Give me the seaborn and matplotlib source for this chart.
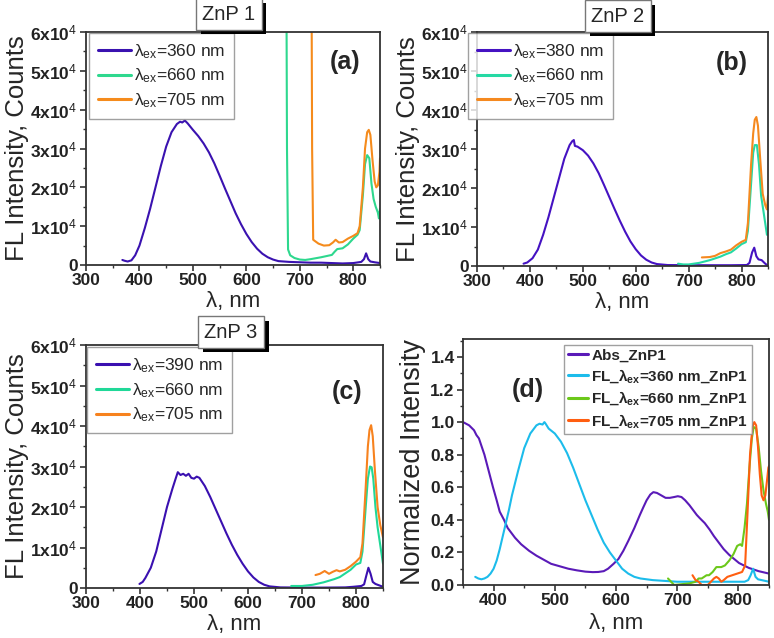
import numpy as np
import pandas as pd
import matplotlib
matplotlib.use("Agg")
import matplotlib.pyplot as plt
import matplotlib.patheffects as pe
from matplotlib.ticker import MultipleLocator
import seaborn as sns

# ---------------- data ----------------
# Panel (a) ZnP 1
a_blue_x = [368, 372, 378, 385, 392, 400, 410, 420, 430, 440, 450, 460, 470, 476, 480, 485, 490, 500, 510, 520, 530, 540, 550, 560, 570, 580, 590, 600, 610, 620, 630, 640, 650, 660, 680, 700, 720, 740, 760, 780, 800, 815, 820, 824, 828, 832, 840, 850]
a_blue_y = [1300, 1100, 900, 1200, 2500, 5000, 9500, 14500, 20000, 25500, 30500, 34200, 36300, 36900, 36700, 37200, 36500, 34800, 33200, 31300, 29000, 26200, 23000, 19700, 16500, 13300, 10500, 8000, 5900, 4200, 2900, 2000, 1400, 1000, 800, 700, 600, 600, 500, 400, 500, 800, 1500, 3000, 1500, 900, 700, 500]
a_green_x = [675, 676, 678, 682, 690, 700, 710, 720, 740, 760, 765, 770, 780, 790, 800, 808, 812, 818, 822, 826, 830, 834, 838, 842, 846, 848, 850]
a_green_y = [70000, 30000, 4000, 2500, 1800, 1400, 1300, 1500, 2000, 2600, 3400, 4100, 4300, 5300, 6800, 7800, 9000, 18000, 26000, 28300, 27500, 21000, 17000, 15000, 13500, 12000, 14500]
a_orange_x = [722, 723, 725, 735, 745, 755, 762, 767, 773, 780, 790, 800, 808, 812, 818, 822, 826, 829, 832, 836, 840, 843, 846, 849, 850]
a_orange_y = [70000, 30000, 6500, 5500, 5000, 5100, 5800, 6500, 5800, 5900, 6800, 7500, 8200, 10000, 20000, 30000, 34200, 34800, 33500, 27000, 21500, 20000, 20500, 24000, 27500]

# Panel (b) ZnP 2
b_blue_x = [388, 395, 405, 415, 425, 435, 445, 455, 465, 475, 480, 483, 485, 490, 500, 510, 520, 530, 540, 550, 560, 570, 580, 590, 600, 610, 620, 630, 640, 660, 700, 740, 780, 810, 815, 820, 824, 828, 832, 838, 844, 850]
b_blue_y = [600, 900, 2000, 4200, 8000, 12500, 17500, 22500, 27500, 31000, 32000, 32300, 30800, 30600, 29700, 28300, 26300, 23800, 20800, 17700, 14600, 11600, 8800, 6300, 4300, 2700, 1600, 900, 500, 250, 200, 200, 200, 250, 800, 3500, 4700, 2500, 1700, 1500, 700, 0]
b_green_x = [680, 690, 700, 720, 740, 760, 770, 780, 790, 800, 808, 812, 818, 822, 825, 829, 833, 837, 842, 848]
b_green_y = [600, 400, 400, 800, 1500, 2400, 3000, 3500, 4500, 5600, 6100, 9000, 21000, 29000, 31000, 31000, 26000, 18000, 13500, 8000]
b_orange_x = [725, 740, 750, 760, 770, 780, 790, 800, 808, 812, 818, 822, 825, 828, 831, 835, 840, 845, 848, 850]
b_orange_y = [2200, 2300, 2600, 3300, 3700, 4200, 5300, 6200, 6700, 11000, 26000, 34000, 37500, 38200, 36000, 28000, 18500, 15500, 14500, 18000]

# Panel (c) ZnP 3
c_blue_x = [399, 405, 410, 420, 430, 440, 450, 460, 466, 470, 475, 480, 485, 490, 495, 500, 505, 510, 520, 530, 540, 550, 560, 570, 580, 590, 600, 610, 620, 630, 640, 660, 700, 740, 780, 795, 810, 815, 819, 823, 827, 831, 836, 842, 850]
c_blue_y = [1000, 1500, 2500, 5000, 9000, 14500, 20000, 24500, 27000, 28600, 27900, 28200, 27700, 28200, 27200, 27000, 27500, 27200, 25200, 22500, 19500, 16500, 13500, 10700, 8200, 6000, 4100, 2600, 1500, 800, 400, 150, 100, 100, 150, 300, 500, 900, 3000, 5000, 3500, 1500, 1000, 700, 300]
c_green_x = [680, 700, 720, 740, 760, 770, 780, 790, 800, 808, 812, 818, 822, 826, 829, 832, 836, 840, 845, 850]
c_green_y = [500, 500, 800, 1400, 2200, 2700, 3600, 4500, 5800, 6200, 9000, 20000, 27000, 30000, 29800, 27000, 20000, 15000, 10500, 6000]
c_orange_x = [725, 733, 742, 750, 757, 764, 770, 780, 790, 800, 808, 812, 818, 822, 825, 828, 831, 835, 840, 845, 850]
c_orange_y = [3200, 3500, 4200, 3500, 4000, 4400, 4100, 4500, 5400, 6500, 7600, 11000, 25000, 35000, 39000, 40200, 37500, 29000, 20000, 15500, 12500]

# Panel (d) normalized
d_abs_x = [350, 360, 368, 372, 376, 385, 392, 399, 405, 410, 417, 423, 435, 445, 458, 470, 482, 494, 508, 522, 536, 550, 562, 571, 580, 587, 596, 604, 612, 620, 630, 639, 645, 650, 656, 661, 667, 674, 681, 688, 695, 701, 707, 713, 720, 726, 732, 737, 745, 753, 760, 768, 776, 785, 793, 801, 809, 817, 825, 833, 841, 850]
d_abs_y = [1.0, 0.98, 0.95, 0.92, 0.90, 0.80, 0.70, 0.60, 0.52, 0.45, 0.40, 0.35, 0.29, 0.25, 0.21, 0.18, 0.155, 0.13, 0.115, 0.10, 0.09, 0.082, 0.079, 0.08, 0.085, 0.10, 0.13, 0.16, 0.21, 0.27, 0.35, 0.43, 0.48, 0.52, 0.555, 0.57, 0.565, 0.55, 0.535, 0.535, 0.54, 0.545, 0.54, 0.52, 0.49, 0.46, 0.43, 0.41, 0.38, 0.34, 0.30, 0.26, 0.22, 0.185, 0.16, 0.135, 0.12, 0.105, 0.095, 0.085, 0.078, 0.07]
d_fl360_x = [370, 375, 380, 385, 390, 395, 400, 405, 410, 415, 420, 425, 430, 440, 450, 460, 470, 475, 480, 483, 485, 490, 500, 510, 520, 530, 540, 550, 560, 570, 580, 590, 600, 610, 620, 630, 640, 660, 680, 700, 740, 780, 810, 816, 820, 824, 828, 832, 838, 850]
d_fl360_y = [0.05, 0.04, 0.035, 0.04, 0.05, 0.07, 0.10, 0.15, 0.22, 0.30, 0.38, 0.46, 0.55, 0.70, 0.84, 0.93, 0.98, 0.99, 0.985, 1.0, 0.99, 0.96, 0.93, 0.88, 0.81, 0.72, 0.62, 0.52, 0.43, 0.34, 0.26, 0.20, 0.15, 0.10, 0.07, 0.05, 0.04, 0.03, 0.025, 0.02, 0.02, 0.02, 0.02, 0.03, 0.06, 0.10, 0.05, 0.035, 0.03, 0.02]
d_fl660_x = [685, 690, 695, 720, 730, 735, 740, 748, 752, 758, 764, 772, 778, 785, 792, 798, 803, 806, 810, 814, 818, 822, 825, 829, 833, 837, 841, 845, 848, 850]
d_fl660_y = [0.04, 0.02, 0.0, 0.01, 0.02, 0.04, 0.04, 0.06, 0.06, 0.08, 0.11, 0.11, 0.12, 0.15, 0.19, 0.24, 0.25, 0.24, 0.35, 0.50, 0.72, 0.90, 0.97, 0.96, 0.85, 0.70, 0.58, 0.50, 0.45, 0.40]
d_fl705_x = [725, 730, 735, 740, 745, 750, 755, 760, 764, 768, 772, 776, 782, 790, 798, 806, 811, 815, 819, 823, 826, 829, 832, 835, 838, 841, 844, 847, 849, 850]
d_fl705_y = [0.06, 0.03, 0.02, 0.0, 0.0, 0.0, 0.02, 0.04, 0.05, 0.04, 0.02, 0.03, 0.05, 0.06, 0.07, 0.08, 0.12, 0.45, 0.80, 0.97, 1.0, 0.98, 0.85, 0.68, 0.55, 0.52, 0.55, 0.65, 0.72, 0.73]

legend_a = ["λ$_{\\mathrm{ex}}$=360 nm", "λ$_{\\mathrm{ex}}$=660 nm", "λ$_{\\mathrm{ex}}$=705 nm"]
legend_b = ["λ$_{\\mathrm{ex}}$=380 nm", "λ$_{\\mathrm{ex}}$=660 nm", "λ$_{\\mathrm{ex}}$=705 nm"]
legend_c = ["λ$_{\\mathrm{ex}}$=390 nm", "λ$_{\\mathrm{ex}}$=660 nm", "λ$_{\\mathrm{ex}}$=705 nm"]
legend_d = ["Abs_ZnP1", "FL_λ$_{\\mathbf{ex}}$=360 nm_ZnP1", "FL_λ$_{\\mathbf{ex}}$=660 nm_ZnP1", "FL_λ$_{\\mathbf{ex}}$=705 nm_ZnP1"]
titles = ["ZnP 1", "ZnP 2", "ZnP 3"]
fl_ticks = [0, 10000, 20000, 30000, 40000, 50000, 60000]
fl_ticklabels = ["0", "1x10$^{4}$", "2x10$^{4}$", "3x10$^{4}$", "4x10$^{4}$", "5x10$^{4}$", "6x10$^{4}$"]

# ---------------- style ----------------
sns.set_style("ticks")
plt.rcParams["font.family"] = ["Liberation Sans", "DejaVu Sans"]
plt.rcParams["mathtext.fontset"] = "custom"
plt.rcParams["mathtext.rm"] = "Liberation Sans"
plt.rcParams["mathtext.it"] = "Liberation Sans:italic"
plt.rcParams["mathtext.bf"] = "Liberation Sans:bold"

fig = plt.figure(figsize=(7.74, 6.38), dpi=100)

def fpos(l, t, r, b):
    W, H = 774.0, 638.0
    return [l / W, 1 - b / H, (r - l) / W, (b - t) / H]

ax_a = fig.add_axes(fpos(86, 32, 380, 265))
ax_b = fig.add_axes(fpos(477, 32, 768, 266))
ax_c = fig.add_axes(fpos(86, 345, 383, 588))
ax_d = fig.add_axes(fpos(463, 339, 769, 585))

def draw(ax, xs, ys, colors, labels, lw=1.5):
    for x, y, c, lab in zip(xs, ys, colors, labels):
        df = pd.DataFrame({"x": x, "y": y})
        sns.lineplot(data=df, x="x", y="y", ax=ax, color=c, label=lab, linewidth=lw, sort=False)

def style_fl(ax):
    ax.set_xlim(300, 850)
    ax.set_ylim(0, 60000)
    ax.xaxis.set_major_locator(MultipleLocator(100))
    ax.xaxis.set_minor_locator(MultipleLocator(50))
    ax.yaxis.set_minor_locator(MultipleLocator(5000))
    ax.set_yticks(fl_ticks)
    ax.set_yticklabels(fl_ticklabels)
    ax.set_xlabel("λ, nm", fontsize=16, labelpad=2)
    ax.set_ylabel("FL Intensity, Counts", fontsize=18.5, labelpad=1)

def common(ax):
    for s in ax.spines.values():
        s.set_linewidth(1.3)
        s.set_color("#333333")
        s.set_visible(True)
    ax.tick_params(which="major", direction="out", length=4, width=1.1, labelsize=12.5, pad=2, colors="#222222")
    ax.tick_params(which="minor", direction="out", length=2.5, width=1.0, colors="#333333")
    for t in ax.get_xticklabels() + ax.get_yticklabels():
        t.set_fontweight("bold")

def fl_legend(ax, anchor):
    leg = ax.legend(loc="upper left", bbox_to_anchor=anchor, fontsize=12.5, frameon=True,
                    fancybox=False, edgecolor="#888888", handlelength=1.9, handletextpad=0.2,
                    borderpad=0.5, labelspacing=0.35, borderaxespad=0)
    leg.get_frame().set_linewidth(1.0)
    for line in leg.get_lines():
        line.set_linewidth(2.2)

draw(ax_a, [a_blue_x, a_green_x, a_orange_x], [a_blue_y, a_green_y, a_orange_y],
     ["#3a12b0", "#2ed88e", "#f58b1c"], legend_a)
draw(ax_b, [b_blue_x, b_green_x, b_orange_x], [b_blue_y, b_green_y, b_orange_y],
     ["#4512c2", "#25d9a4", "#f5891f"], legend_b)
draw(ax_c, [c_blue_x, c_green_x, c_orange_x], [c_blue_y, c_green_y, c_orange_y],
     ["#3a10b0", "#20d898", "#f7821e"], legend_c)
draw(ax_d, [d_abs_x, d_fl360_x, d_fl660_x, d_fl705_x], [d_abs_y, d_fl360_y, d_fl660_y, d_fl705_y],
     ["#5a1ab8", "#1cbceb", "#6cc81a", "#ff5e10"], legend_d)

for ax in (ax_a, ax_b, ax_c):
    style_fl(ax)

ax_d.set_xlim(350, 850)
ax_d.set_ylim(0, 1.51)
ax_d.xaxis.set_major_locator(MultipleLocator(100))
ax_d.xaxis.set_minor_locator(MultipleLocator(50))
ax_d.yaxis.set_major_locator(MultipleLocator(0.2))
ax_d.yaxis.set_minor_locator(MultipleLocator(0.1))
ax_d.yaxis.set_major_formatter(matplotlib.ticker.FormatStrFormatter("%.1f"))
ax_d.set_xlabel("λ, nm", fontsize=16, labelpad=3)
ax_d.set_ylabel("Normalized Intensity", fontsize=19.5, labelpad=3)

for ax in (ax_a, ax_b, ax_c, ax_d):
    common(ax)

fl_legend(ax_a, (0.01, 0.995))
fl_legend(ax_b, (-0.03, 0.995))
fl_legend(ax_c, (0.003, 0.99))

leg = ax_d.legend(loc="upper right", bbox_to_anchor=(0.944, 0.976), prop={"weight": "bold", "size": 11},
                  frameon=True, fancybox=False, edgecolor="#888888", handlelength=1.3,
                  handletextpad=0.2, borderpad=0.25, labelspacing=0.3, borderaxespad=0)
leg.get_frame().set_linewidth(1.0)
for line in leg.get_lines():
    line.set_linewidth(2.2)

# panel letters
ax_a.text(0.88, 0.87, "(a)", transform=ax_a.transAxes, fontsize=18, fontweight="bold", ha="center", va="center")
ax_b.text(0.876, 0.868, "(b)", transform=ax_b.transAxes, fontsize=18, fontweight="bold", ha="center", va="center")
ax_c.text(0.879, 0.807, "(c)", transform=ax_c.transAxes, fontsize=18, fontweight="bold", ha="center", va="center")
ax_d.text(0.212, 0.793, "(d)", transform=ax_d.transAxes, fontsize=18, fontweight="bold", ha="center", va="center")

# title boxes with shadows
for title, (cx, cy) in zip(titles, [(229, 14), (618, 16), (231, 332)]):
    t = fig.text(cx / 774, 1 - cy / 638, title, fontsize=14.5, ha="center", va="center",
                 bbox=dict(boxstyle="square,pad=0.3", facecolor="white", edgecolor="#777777", linewidth=1.0))
    t.get_bbox_patch().set_path_effects([pe.SimplePatchShadow(offset=(3.5, -3.5), shadow_rgbFace="black", alpha=1.0), pe.Normal()])

fig.savefig("out.png", dpi=100)
